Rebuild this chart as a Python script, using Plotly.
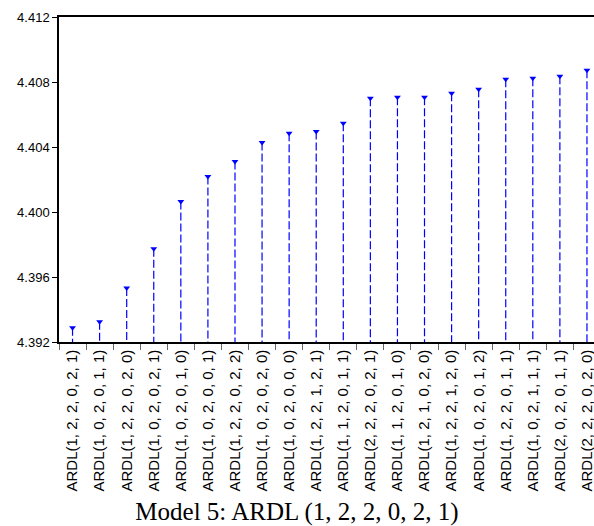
import plotly.graph_objects as go

categories = [
    "ARDL(1, 2, 2, 0, 2, 1)", "ARDL(1, 0, 2, 0, 1, 1)", "ARDL(1, 2, 2, 0, 2, 0)",
    "ARDL(1, 0, 2, 0, 2, 1)", "ARDL(1, 0, 2, 0, 1, 0)", "ARDL(1, 0, 2, 0, 0, 1)",
    "ARDL(1, 2, 2, 0, 2, 2)", "ARDL(1, 0, 2, 0, 2, 0)", "ARDL(1, 0, 2, 0, 0, 0)",
    "ARDL(1, 2, 2, 1, 2, 1)", "ARDL(1, 1, 2, 0, 1, 1)", "ARDL(2, 2, 2, 0, 2, 1)",
    "ARDL(1, 1, 2, 0, 1, 0)", "ARDL(1, 2, 1, 0, 2, 0)", "ARDL(1, 2, 2, 1, 2, 0)",
    "ARDL(1, 0, 2, 0, 1, 2)", "ARDL(1, 2, 2, 0, 1, 1)", "ARDL(1, 0, 2, 1, 1, 1)",
    "ARDL(2, 0, 2, 0, 1, 1)", "ARDL(2, 2, 2, 0, 2, 0)",
]
values = [
    4.39287, 4.39324, 4.39533, 4.39774, 4.40064, 4.40219, 4.40311, 4.40428,
    4.40484, 4.40496, 4.40546, 4.40700, 4.40706, 4.40706, 4.40731, 4.40756,
    4.40817, 4.40823, 4.40836, 4.40873,
]
y_min, y_max, y_step = 4.392, 4.412, 0.004
title_text = "Model 5: ARDL (1, 2, 2, 0, 2, 1)"

BLUE = "#0000FF"

# stems from each value down to the axis floor
stem_x, stem_y = [], []
for c, v in zip(categories, values):
    stem_x += [c, c, None]
    stem_y += [v, y_min, None]

fig = go.Figure()
fig.add_trace(go.Scatter(
    x=stem_x, y=stem_y, mode="lines",
    line=dict(color=BLUE, width=1.2, dash="8px,3px"),
    hoverinfo="skip", showlegend=False,
))
fig.add_trace(go.Scatter(
    x=categories, y=values, mode="markers",
    marker=dict(symbol="triangle-down", size=6, color=BLUE, line=dict(width=0)),
    showlegend=False,
))

fig.update_layout(
    width=594, height=526,
    margin=dict(l=59, r=0, t=17, b=184),
    paper_bgcolor="white", plot_bgcolor="white",
    font=dict(family="Liberation Sans, Arial, sans-serif", color="black"),
    title=dict(
        text=title_text, x=0.5, xref="container", xanchor="center",
        y=1 - 511 / 526, yref="container", yanchor="middle",
        font=dict(family="Liberation Serif, Times New Roman, serif", size=25, color="black"),
    ),
    xaxis=dict(
        type="category", categoryorder="array", categoryarray=categories,
        range=[-0.5, 19.26],
        tickson="boundaries", ticks="outside", ticklen=6, tickcolor="#666666",
        tickangle=-90, tickfont=dict(size=15, color="black"),
        showline=True, linecolor="black", linewidth=1.5, mirror=True,
        showgrid=False, zeroline=False,
    ),
    yaxis=dict(
        range=[y_min, y_max], tick0=y_min, dtick=y_step, tickformat=".3f",
        ticks="outside", ticklen=5, tickcolor="black",
        tickfont=dict(size=13, color="black"),
        showline=True, linecolor="black", linewidth=1.5,
        showgrid=False, zeroline=False,
    ),
)

fig.write_html("out.html")
